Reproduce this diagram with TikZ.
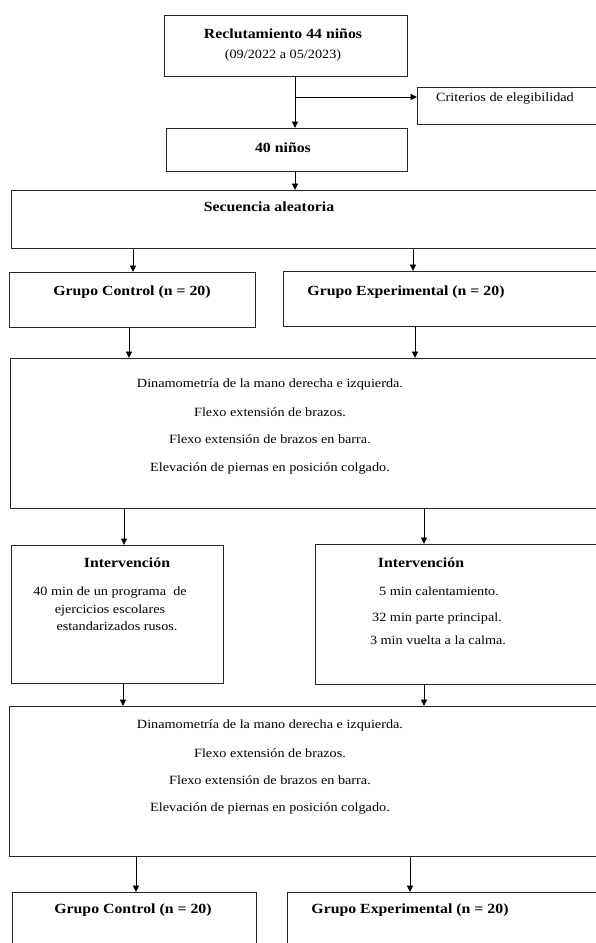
\documentclass[tikz,border=0pt]{standalone}
\usepackage{fontspec}
\setmainfont[FakeStretch=1.13]{Liberation Serif}
\usetikzlibrary{arrows.meta}
\begin{document}
\begin{tikzpicture}[x=1pt,y=-1pt,
  box/.style={draw=black!85, line width=0.9pt, anchor=north west, inner sep=0pt},
  txt/.style={font=\fontsize{12.6}{14}\selectfont, anchor=base, inner sep=0pt},
  btxt/.style={font=\fontsize{14}{16}\selectfont\bfseries, anchor=base, inner sep=0pt},
  arr/.style={draw=black, line width=0.9pt, -{Triangle[length=6.5pt,width=6pt]}}]
\clip (0,0) rectangle (596,943);
\fill[white] (0,0) rectangle (596,943);
% boxes
\node[box, minimum width=243pt, minimum height=61pt] (b1) at (164,15) {};
\node[box, minimum width=210pt, minimum height=37pt] (crit) at (417,87) {};
\node[box, minimum width=241pt, minimum height=43pt] (b2) at (166,128) {};
\node[box, minimum width=620pt, minimum height=58pt] (seq) at (11,190) {};
\node[box, minimum width=246pt, minimum height=55pt] (gc1) at (9,272) {};
\node[box, minimum width=340pt, minimum height=55pt] (ge1) at (283,271) {};
\node[box, minimum width=620pt, minimum height=150pt] (m1) at (10,358) {};
\node[box, minimum width=212pt, minimum height=138pt] (int1) at (11,545) {};
\node[box, minimum width=310pt, minimum height=140pt] (int2) at (315,544) {};
\node[box, minimum width=620pt, minimum height=150pt] (m2) at (9,706) {};
\node[box, minimum width=244pt, minimum height=70pt] (gc2) at (12,892) {};
\node[box, minimum width=340pt, minimum height=70pt] (ge2) at (287,892) {};
% texts
\node[btxt] (t1) at (283,38) {Reclutamiento 44 niños};
\node[txt] (t2) at (283,58) {(09/2022 a 05/2023)};
\node[txt] (t3) at (505,101) {Criterios de elegibilidad};
\node[btxt] (t4) at (283,152) {40 niños};
\node[btxt] (t5) at (269,211) {Secuencia aleatoria};
\node[btxt] (t6) at (132,295) {Grupo Control (n = 20)};
\node[btxt] (t7) at (406,295) {Grupo Experimental (n = 20)};
\node[txt] (m1a) at (270,387) {Dinamometría de la mano derecha e izquierda.};
\node[txt] (m1b) at (270,416) {Flexo extensión de brazos.};
\node[txt] (m1c) at (270,443) {Flexo extensión de brazos en barra.};
\node[txt] (m1d) at (270,471) {Elevación de piernas en posición colgado.};
\node[btxt] (i1) at (127,567) {Intervención};
\node[txt] (i1a) at (110,595) {40 min de un programa \ de};
\node[txt] (i1b) at (110,613) {ejercicios escolares};
\node[txt] (i1c) at (117,630) {estandarizados rusos.};
\node[btxt] (i2) at (421,567) {Intervención};
\node[txt] (i2a) at (439,595) {5 min calentamiento.};
\node[txt] (i2b) at (437,621) {32 min parte principal.};
\node[txt] (i2c) at (438,644) {3 min vuelta a la calma.};
\node[txt] (m2a) at (270,728) {Dinamometría de la mano derecha e izquierda.};
\node[txt] (m2b) at (270,757) {Flexo extensión de brazos.};
\node[txt] (m2c) at (270,784) {Flexo extensión de brazos en barra.};
\node[txt] (m2d) at (270,811) {Elevación de piernas en posición colgado.};
\node[btxt] (t8) at (133,913) {Grupo Control (n = 20)};
\node[btxt] (t9) at (410,913) {Grupo Experimental (n = 20)};
% connector columns
\coordinate (c295) at (295,0);
\coordinate (br) at (295,97);
\coordinate (c133) at (133,0);
\coordinate (c413) at (413,0);
\coordinate (c129) at (129,0);
\coordinate (c415) at (415,0);
\coordinate (c124) at (124,0);
\coordinate (c424) at (424,0);
\coordinate (c123) at (123,0);
\coordinate (c136) at (136,0);
\coordinate (c410) at (410,0);
% connectors
\draw[arr] (b1.south -| c295) -- (b2.north -| c295);
\draw[arr] (br) -- (br -| crit.west);
\draw[arr] (b2.south -| c295) -- (seq.north -| c295);
\draw[arr] (seq.south -| c133) -- (gc1.north -| c133);
\draw[arr] (seq.south -| c413) -- (ge1.north -| c413);
\draw[arr] (gc1.south -| c129) -- (m1.north -| c129);
\draw[arr] (ge1.south -| c415) -- (m1.north -| c415);
\draw[arr] (m1.south -| c124) -- (int1.north -| c124);
\draw[arr] (m1.south -| c424) -- (int2.north -| c424);
\draw[arr] (int1.south -| c123) -- (m2.north -| c123);
\draw[arr] (int2.south -| c424) -- (m2.north -| c424);
\draw[arr] (m2.south -| c136) -- (gc2.north -| c136);
\draw[arr] (m2.south -| c410) -- (ge2.north -| c410);
\end{tikzpicture}
\end{document}
